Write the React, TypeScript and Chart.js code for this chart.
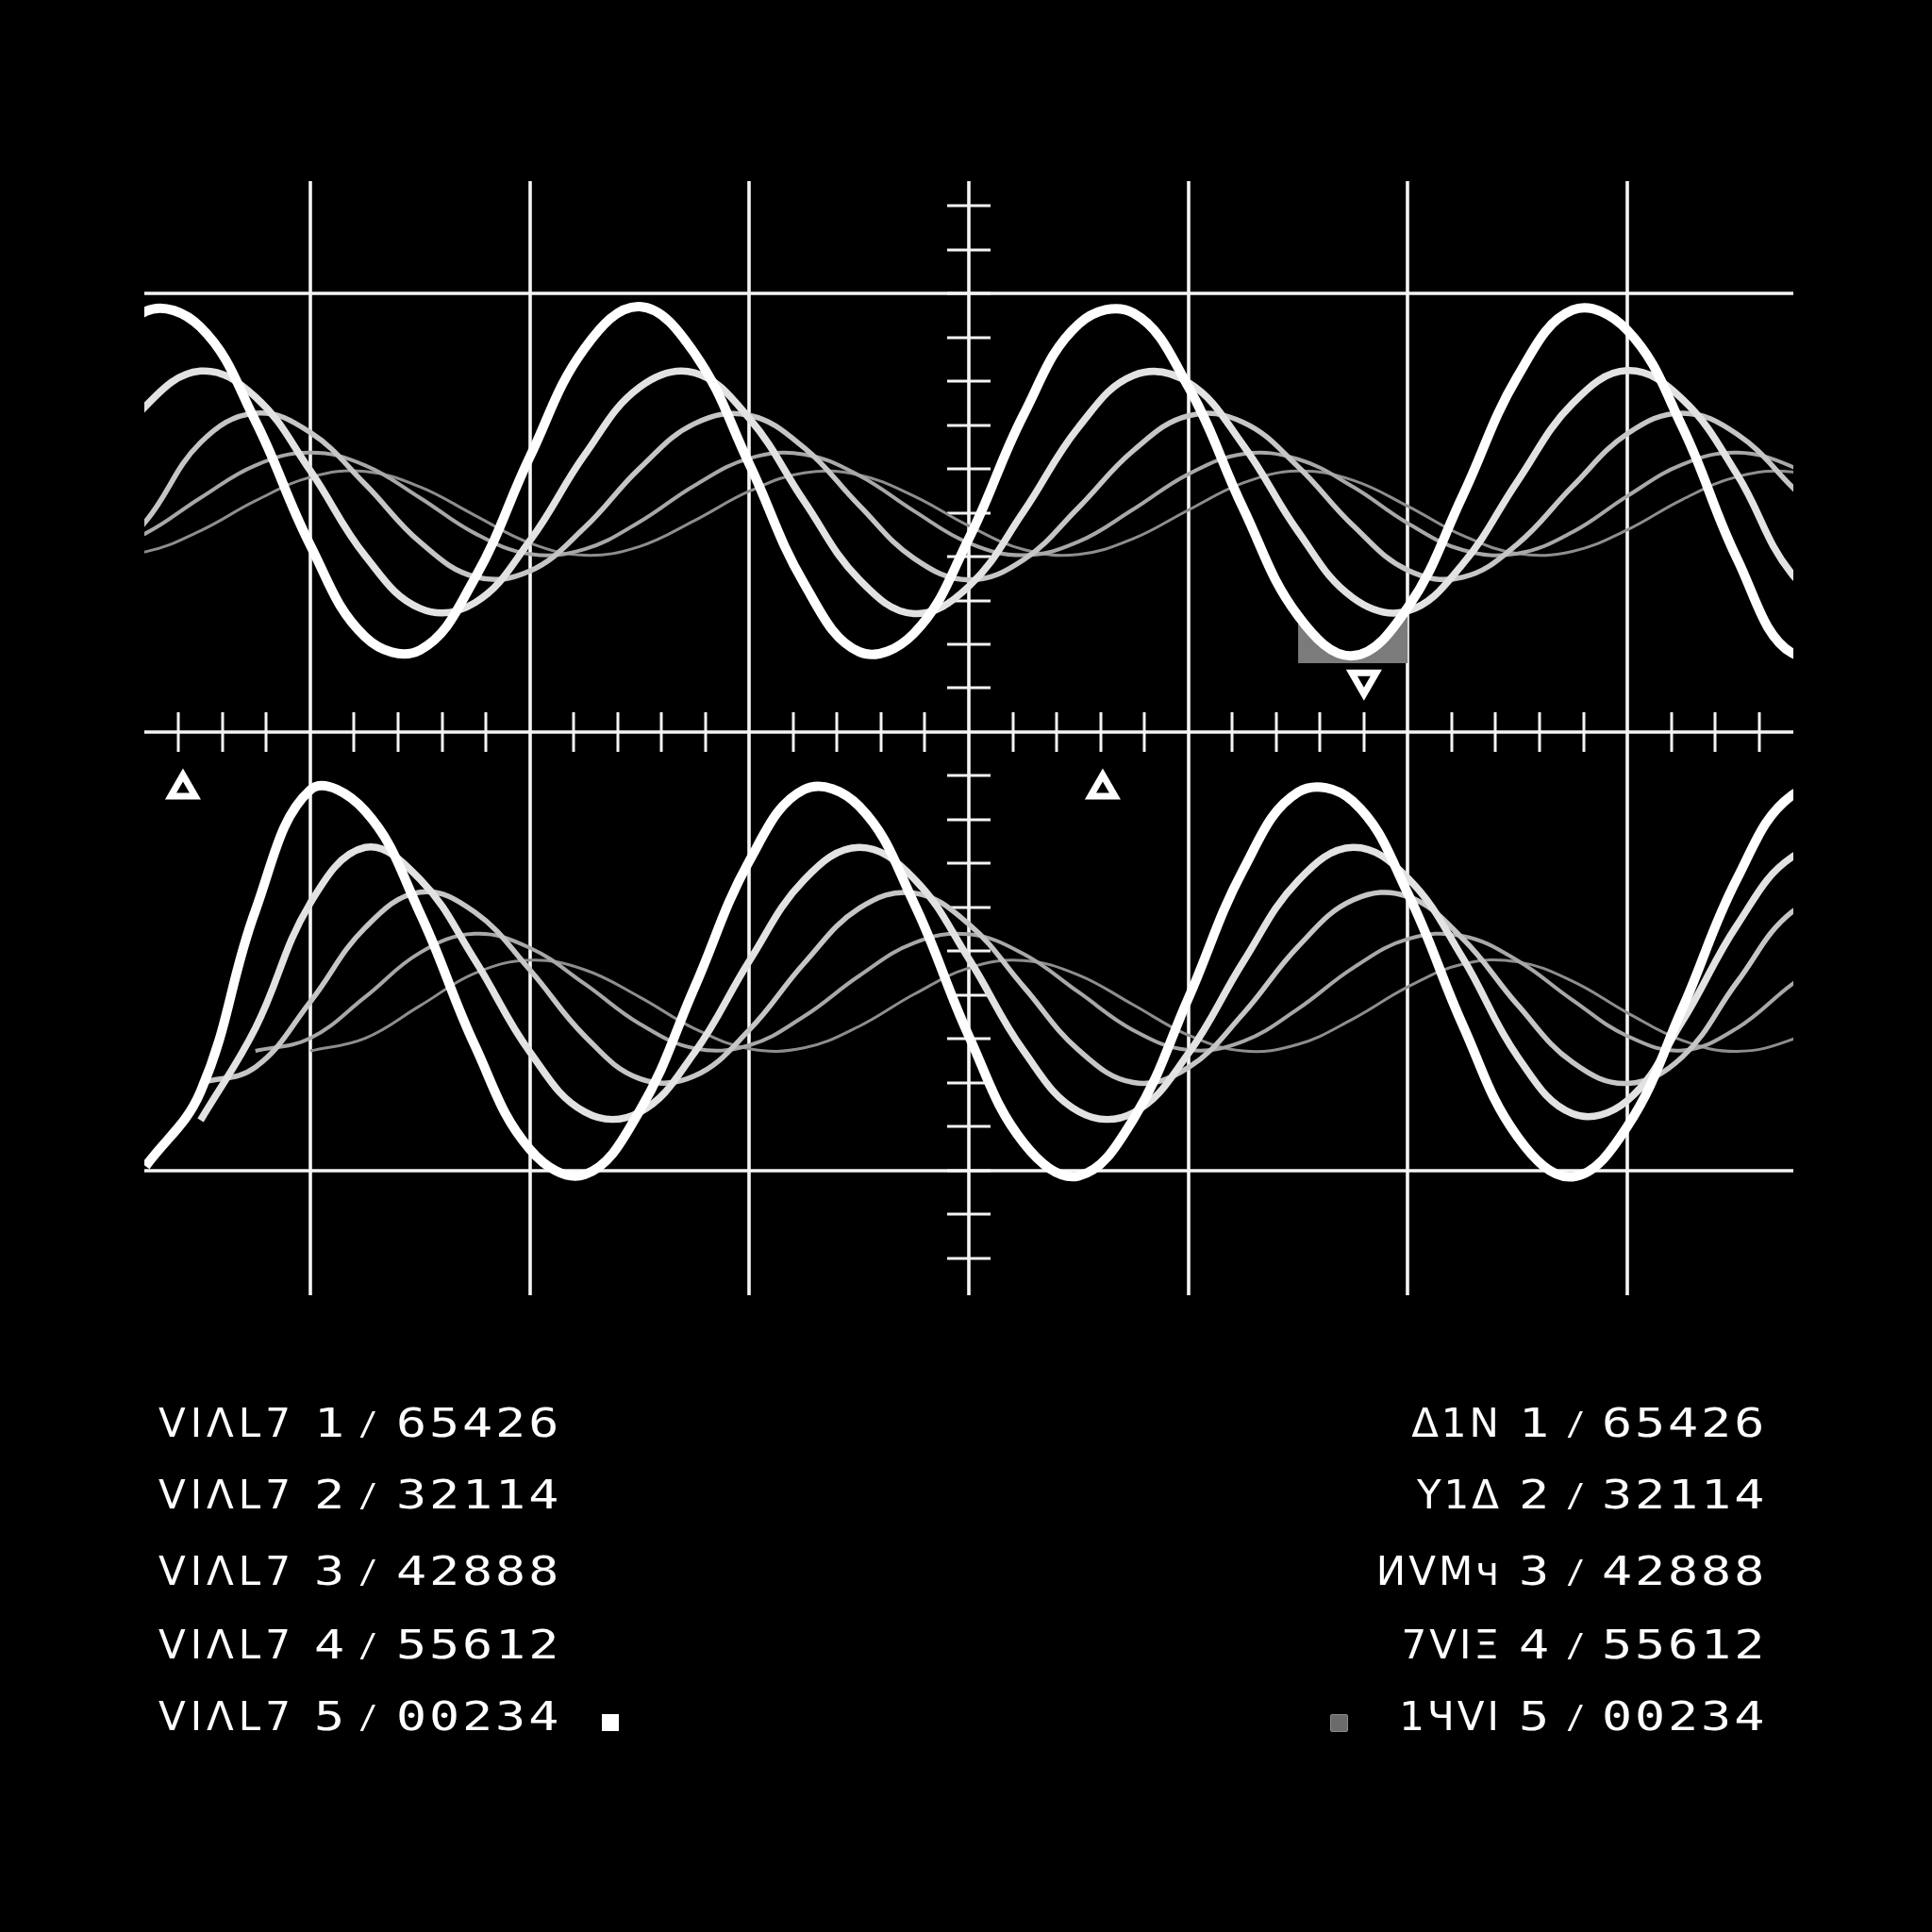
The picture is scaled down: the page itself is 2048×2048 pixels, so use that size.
import React, { useEffect, useRef } from "react";
import { Chart, registerables } from "chart.js";

Chart.register(...registerables);

// shared x sampling positions (grid units; one major division = 1)
const X_GRID = [
  -4, -3.75, -3.5, -3.25, -3, -2.75, -2.5, -2.25, -2, -1.75, -1.5, -1.25, -1, -0.75, -0.5, -0.25, 0,
  0.25, 0.5, 0.75, 1, 1.25, 1.5, 1.75, 2, 2.25, 2.5, 2.75, 3, 3.25, 3.5, 3.75, 4,
];

// upper trace group
const TOP_A = [8.01, 9.59, 9.23, 7.09, 4.26, 2.17, 1.87, 3.51, 6.27, 8.75, 9.7, 8.64, 6.11, 3.38, 1.83, 2.25, 4.41, 7.24, 9.3, 9.55, 7.87, 5.1, 2.65, 1.74, 2.84, 5.39, 8.11, 9.62, 9.16, 6.96, 3.95, 1.8, 2.5];
const TOP_B = [5.64, 7.43, 8.23, 7.64, 5.96, 4.02, 2.82, 2.95, 4.36, 6.32, 7.86, 8.19, 7.15, 5.26, 3.48, 2.7, 3.32, 5.03, 6.95, 8.13, 7.97, 6.54, 4.57, 3.06, 2.76, 3.83, 5.72, 7.49, 8.24, 7.59, 5.87, 3.6, 2.75];
const TOP_C = [3.6, 4.8, 6.6, 7.27, 6.83, 5.65, 4.33, 3.54, 3.67, 4.66, 6.01, 7.03, 7.22, 6.48, 5.17, 3.96, 3.47, 3.93, 5.12, 6.42, 7.21, 7.06, 6.05, 4.71, 3.69, 3.53, 4.29, 5.6, 6.8, 7.27, 6.79, 5.59, 4.28];
const TOP_D = [4.06, 4.53, 5.34, 6.08, 6.37, 6.08, 5.34, 4.53, 4.06, 4.17, 4.79, 5.62, 6.24, 6.33, 5.85, 5.04, 4.31, 4.03, 4.34, 5.08, 5.88, 6.34, 6.22, 5.59, 4.76, 4.15, 4.07, 4.56, 5.38, 6.1, 6.37, 6.05, 5.3];
const TOP_E = [4.08, 4.11, 4.59, 5.27, 5.81, 5.94, 5.59, 4.94, 4.31, 4.03, 4.23, 4.82, 5.49, 5.91, 5.86, 5.38, 4.7, 4.16, 4.05, 4.41, 5.06, 5.68, 5.95, 5.74, 5.15, 4.48, 4.07, 4.12, 4.61, 5.3, 5.82, 5.93, 5.56];

// lower trace group
const BOT_A = [null, -9.9, -8.2, -4.07, -1.32, -1.8, -4.13, -7.15, -9.51, -10.09, -8.64, -5.83, -2.94, -1.31, -1.69, -3.9, -6.93, -9.37, -10.12, -8.82, -6.07, -3.14, -1.37, -1.58, -3.68, -6.68, -9.23, -10.14, -8.99, -6.31, -3.34, -1.44, -1.49];
const BOT_B = [null, null, -8.85, -6.75, -3.9, -2.63, -3.36, -5.2, -7.29, -8.66, -8.67, -7.31, -5.22, -3.37, -2.63, -3.34, -5.17, -7.27, -8.65, -8.68, -7.33, -5.24, -3.39, -2.63, -3.33, -5.15, -7.4, -8.7, -8.4, -6.6, -4.4, -2.85, -2.7];
const BOT_C = [null, null, -8.0, -7.64, -6.15, -4.46, -3.65, -4.11, -5.42, -6.93, -7.9, -7.84, -6.79, -5.27, -4.02, -3.67, -4.38, -5.81, -7.25, -7.99, -7.65, -6.42, -4.89, -3.83, -3.75, -4.71, -6.22, -7.53, -8.01, -7.41, -5.7, -4.1, -3.7];
const BOT_D = [null, null, null, -7.27, -6.98, -6.04, -5.03, -4.6, -4.92, -5.74, -6.65, -7.21, -7.14, -6.48, -5.56, -4.81, -4.61, -5.06, -5.93, -6.8, -7.25, -7.05, -6.31, -5.38, -4.72, -4.65, -5.21, -6.11, -6.93, -7.26, -6.75, -5.75, -4.9];
const BOT_E = [null, null, null, null, -7.27, -6.98, -6.24, -5.5, -5.2, -5.42, -6.04, -6.76, -7.22, -7.2, -6.71, -5.98, -5.38, -5.21, -5.54, -6.22, -6.91, -7.27, -7.12, -6.54, -5.81, -5.29, -5.24, -5.68, -6.4, -7.03, -7.28, -7.01, -6.37];

// markers
const UP_MARK_X = [-3.58, 0.61];
const UP_MARK_Y = [-1.3, -1.3];
const DOWN_MARK_X = [1.8];
const DOWN_MARK_Y = [1.19];

// shaded patch under the upper white trough
const PATCH_X_RANGE = [1.5, 2.0];
const PATCH_FLOOR = 1.57;

// frame / graticule
const MAJOR_X = [-3, -2, -1, 0, 1, 2, 3];
const FRAME_Y = [10, 0, -10];
const Y_TICKS = [-12, -11, -10, -9, -8, -7, -6, -5, -4, -3, -2, -1, 1, 2, 3, 4, 5, 6, 7, 8, 9, 10, 11, 12];
const X_TICKS = [
  -3.6, -3.4, -3.2, -2.8, -2.6, -2.4, -2.2, -1.8, -1.6, -1.4, -1.2, -0.8, -0.6, -0.4, -0.2,
  0.2, 0.4, 0.6, 0.8, 1.2, 1.4, 1.6, 1.8, 2.2, 2.4, 2.6, 2.8, 3.2, 3.4, 3.6,
];

// readout text
const LEFT_LABELS = ["VIΛL7", "VIΛL7", "VIΛL7", "VIΛL7", "VIΛL7"];
const RIGHT_LABELS = ["Δ1N", "Y1Δ", "ИVMч", "7VIΞ", "1ЧVI"];
const ROW_INDEX = ["1", "2", "3", "4", "5"];
const ROW_CODES = ["65426", "32114", "42888", "55612", "00234"];

const TRACE_COLORS = ["#ffffff", "#e2e2e2", "#c6c6c6", "#a8a8a8", "#8e8e8e"];
const TRACE_WIDTHS = [10, 7.5, 5.5, 4, 3];

function pts(values: (number | null)[]) {
  return X_GRID.map((x, i) => ({ x, y: values[i] }));
}

const graticule = {
  id: "graticule",
  beforeDatasetsDraw(chart: any) {
    const { ctx, chartArea, scales } = chart;
    const xs = scales.x;
    const ys = scales.y;
    const x0 = xs.getPixelForValue(0);
    const y0 = ys.getPixelForValue(0);
    ctx.save();
    ctx.strokeStyle = "#f4f4f4";
    ctx.lineWidth = 3.6;
    ctx.beginPath();
    MAJOR_X.forEach((v) => {
      const px = Math.round(xs.getPixelForValue(v));
      ctx.moveTo(px, chartArea.top);
      ctx.lineTo(px, chartArea.bottom);
    });
    FRAME_Y.forEach((v) => {
      const py = Math.round(ys.getPixelForValue(v));
      ctx.moveTo(chartArea.left, py);
      ctx.lineTo(chartArea.right, py);
    });
    ctx.stroke();
    ctx.lineWidth = 3;
    ctx.beginPath();
    X_TICKS.forEach((v) => {
      const px = Math.round(xs.getPixelForValue(v));
      ctx.moveTo(px, y0 - 21);
      ctx.lineTo(px, y0 + 21);
    });
    Y_TICKS.forEach((v) => {
      const py = Math.round(ys.getPixelForValue(v));
      ctx.moveTo(x0 - 23, py);
      ctx.lineTo(x0 + 23, py);
    });
    ctx.stroke();
    ctx.restore();
  },
};

export default function App() {
  const ref = useRef<HTMLCanvasElement | null>(null);

  useEffect(() => {
    if (!ref.current) return;
    const groups = [
      [TOP_A, TOP_B, TOP_C, TOP_D, TOP_E],
      [BOT_A, BOT_B, BOT_C, BOT_D, BOT_E],
    ];
    const datasets: any[] = [];
    datasets.push({
      data: UP_MARK_X.map((x, i) => ({ x, y: UP_MARK_Y[i] })),
      showLine: false,
      pointStyle: "triangle",
      pointRadius: 15,
      pointBorderWidth: 7,
      pointBorderColor: "#ffffff",
      pointBackgroundColor: "#000000",
      pointRotation: 0,
      order: -2,
    });
    datasets.push({
      data: DOWN_MARK_X.map((x, i) => ({ x, y: DOWN_MARK_Y[i] })),
      showLine: false,
      pointStyle: "triangle",
      pointRadius: 15,
      pointBorderWidth: 7,
      pointBorderColor: "#ffffff",
      pointBackgroundColor: "#000000",
      pointRotation: 180,
      order: -2,
    });
    for (let k = 0; k < 5; k++) {
      groups.forEach((g) => {
        datasets.push({
          data: pts(g[k]),
          borderColor: TRACE_COLORS[k],
          borderWidth: TRACE_WIDTHS[k],
          tension: 0.4,
          pointRadius: 0,
          fill: false,
          spanGaps: false,
          borderCapStyle: "butt",
          order: k,
        });
      });
    }
    datasets.push({
      data: pts(TOP_A.map((v, i) => (X_GRID[i] >= PATCH_X_RANGE[0] && X_GRID[i] <= PATCH_X_RANGE[1] ? v : null))),
      borderWidth: 0,
      borderColor: "rgba(0,0,0,0)",
      backgroundColor: "#7b7b7b",
      fill: { value: PATCH_FLOOR },
      tension: 0.4,
      pointRadius: 0,
      order: 20,
    });

    const chart = new Chart(ref.current, {
      type: "line",
      data: { datasets },
      options: {
        responsive: false,
        animation: false,
        devicePixelRatio: 1,
        events: [],
        layout: { padding: { left: 153, right: 147, top: 192, bottom: 675 } },
        scales: {
          x: { type: "linear", min: -3.756, max: 3.756, display: false },
          y: { type: "linear", min: -12.84, max: 12.56, display: false },
        },
        plugins: { legend: { display: false }, tooltip: { enabled: false } },
      },
      plugins: [graticule],
    } as any);
    return () => chart.destroy();
  }, []);

  const baselines = [1524, 1600, 1681, 1759, 1835];
  const F = 42;
  const base: React.CSSProperties = {
    position: "absolute",
    fontSize: F,
    lineHeight: `${F}px`,
    height: F,
    color: "#ffffff",
    whiteSpace: "pre",
  };
  const mono = '"DejaVu Sans Mono", monospace';
  const sans = '"DejaVu Sans", sans-serif';
  const wide: React.CSSProperties = { transform: "scaleX(1.27)", transformOrigin: "left center" };

  return (
    <div style={{ position: "absolute", left: 0, top: 0, width: 2048, height: 2048, background: "#000", overflow: "hidden" }}>
      <canvas ref={ref} width={2048} height={2048} style={{ position: "absolute", left: 0, top: 0, width: 2048, height: 2048 }} />
      {baselines.map((b, i) => {
        const top = b - 36;
        return (
          <React.Fragment key={i}>
            <div style={{ ...base, top, left: 168, fontFamily: sans, letterSpacing: 5 }}>{LEFT_LABELS[i]}</div>
            <div style={{ ...base, ...wide, top, left: 333, fontFamily: mono }}>{ROW_INDEX[i]}</div>
            <div style={{ ...base, top, left: 380, fontFamily: mono, fontSize: 34 }}>/</div>
            <div style={{ ...base, ...wide, top, left: 420, fontFamily: mono, letterSpacing: 2.3 }}>{ROW_CODES[i]}</div>

            <div style={{ ...base, top, right: 2048 - 1592, fontFamily: sans, letterSpacing: 3, textAlign: "right" }}>{RIGHT_LABELS[i]}</div>
            <div style={{ ...base, ...wide, top, left: 1610, fontFamily: mono }}>{ROW_INDEX[i]}</div>
            <div style={{ ...base, top, left: 1660, fontFamily: mono, fontSize: 34 }}>/</div>
            <div style={{ ...base, ...wide, top, left: 1698, fontFamily: mono, letterSpacing: 2.3 }}>{ROW_CODES[i]}</div>
          </React.Fragment>
        );
      })}
      <div style={{ position: "absolute", left: 638, top: 1817, width: 18, height: 18, background: "#ffffff" }} />
      <div style={{ position: "absolute", left: 1410, top: 1817, width: 17, height: 17, background: "#6b6b6b", border: "1px solid #8a8a8a", borderRadius: 2 }} />
    </div>
  );
}
